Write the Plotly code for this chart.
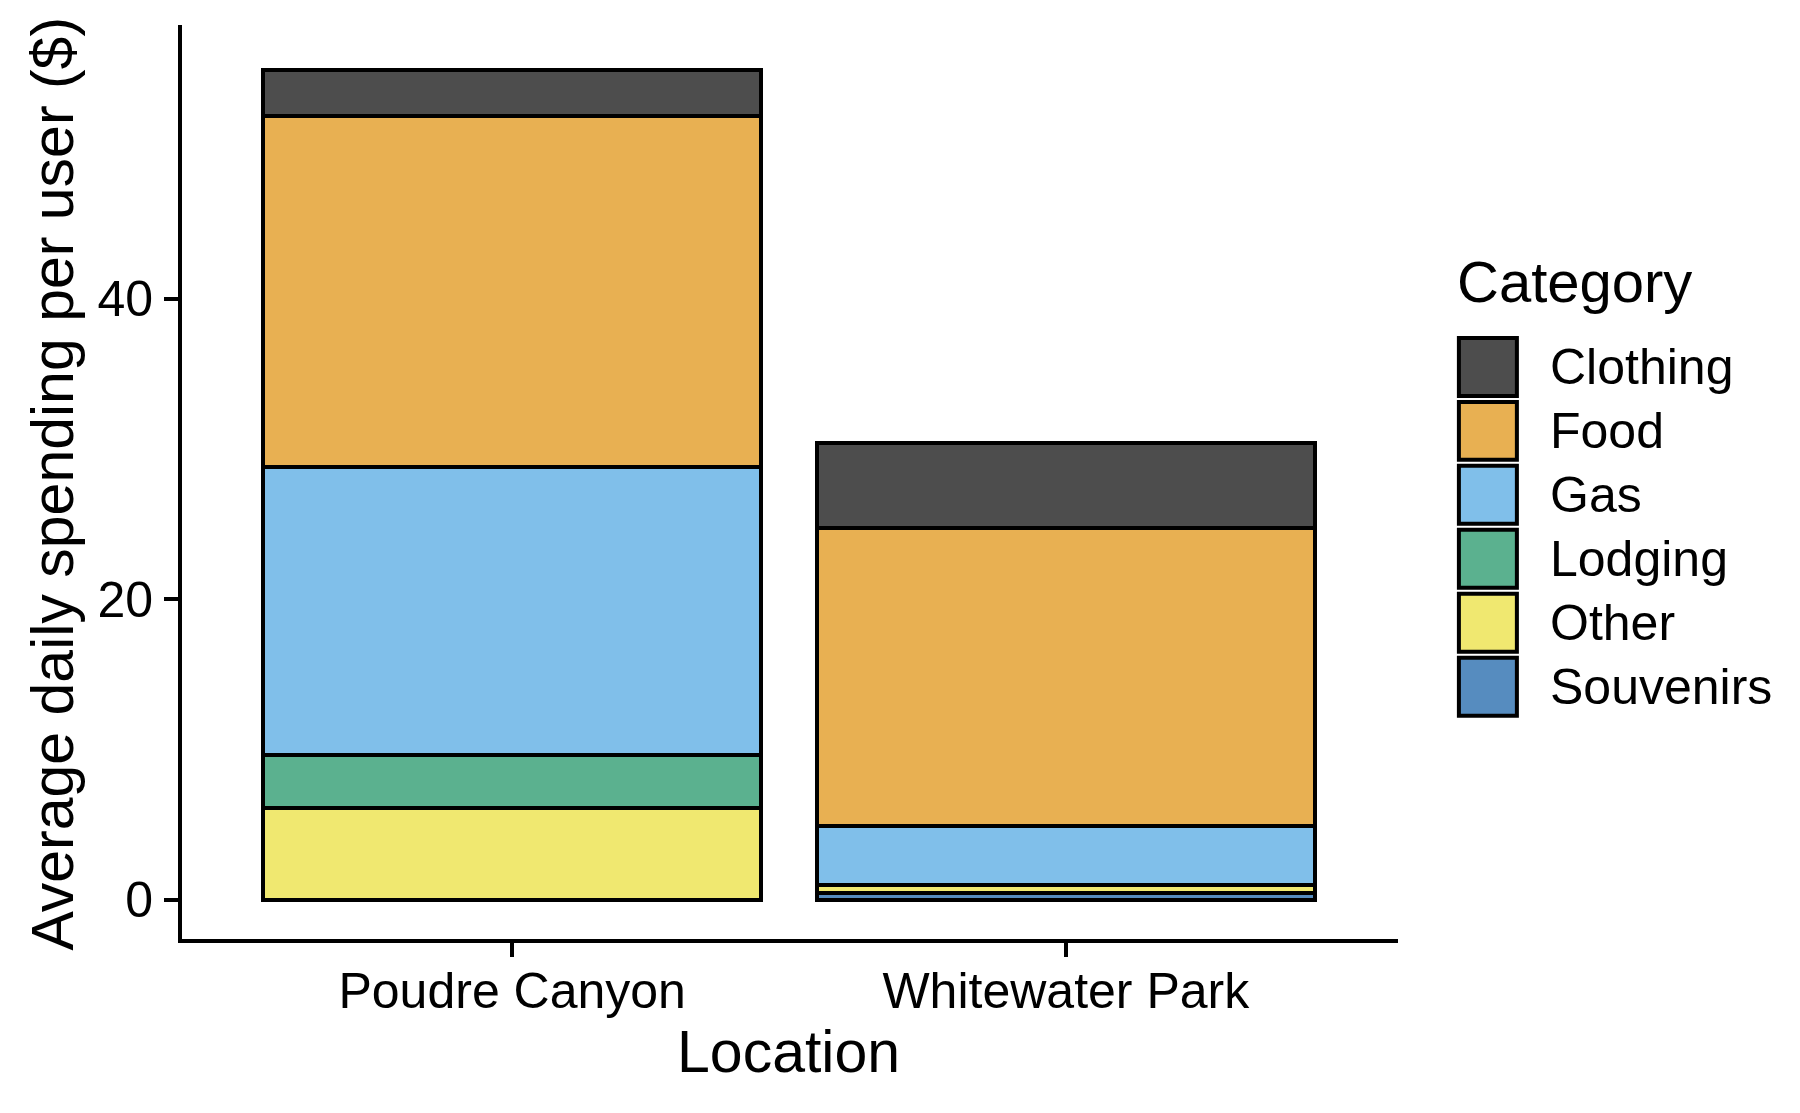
import plotly.graph_objects as go

# ---------------- data ----------------
locations = ["Poudre Canyon", "Whitewater Park"]
categories = ["Clothing", "Food", "Gas", "Lodging", "Other", "Souvenirs"]
clothing = [3.08, 5.65]
food = [23.34, 19.86]
gas = [19.19, 3.90]
lodging = [3.55, 0.0]
other = [6.08, 0.56]
souvenirs = [0.0, 0.44]
values = {
    "Clothing": clothing,
    "Food": food,
    "Gas": gas,
    "Lodging": lodging,
    "Other": other,
    "Souvenirs": souvenirs,
}
colors = {
    "Clothing": "#4D4D4D",
    "Food": "#E8B052",
    "Gas": "#80BFEA",
    "Lodging": "#5BB18F",
    "Other": "#F0E870",
    "Souvenirs": "#568CBF",
}
y_ticks = [0, 20, 40]

FONT = "Liberation Sans, Arial, sans-serif"

# ---------------- geometry (pixels) ----------------
W, H = 1800, 1113
L, R, T, B = 182.3, 1800 - 1398.4, 25, 1113 - 939.3
PW = W - L - R
PH = H - T - B


def px_x(p):
    return (p - L) / PW


def px_y(p):
    return (H - B - p) / PH


fig = go.Figure()

# bottom of stack first (Souvenirs) up to Clothing on top
for cat in reversed(categories):
    fig.add_trace(
        go.Bar(
            x=locations,
            y=values[cat],
            name=cat,
            width=0.9,
            marker=dict(color=colors[cat], line=dict(color="black", width=4)),
            showlegend=False,
        )
    )

# ---------------- custom legend ----------------
shapes = []
annotations = []
box_x0, box_x1 = 1459.3, 1517.3
first_center, pitch, half = 367, 64, 29
for i, cat in enumerate(categories):
    cy = first_center + i * pitch
    shapes.append(
        dict(
            type="rect",
            xref="paper",
            yref="paper",
            x0=px_x(box_x0),
            x1=px_x(box_x1),
            y0=px_y(cy + half),
            y1=px_y(cy - half),
            fillcolor=colors[cat],
            line=dict(color="black", width=4),
            layer="above",
        )
    )
    annotations.append(
        dict(
            xref="paper",
            yref="paper",
            x=px_x(1548),
            y=px_y(cy),
            xanchor="left",
            yanchor="middle",
            text=cat,
            showarrow=False,
            font=dict(family=FONT, size=50, color="black"),
        )
    )

annotations.append(
    dict(
        xref="paper",
        yref="paper",
        x=px_x(1455),
        y=px_y(282),
        xanchor="left",
        yanchor="middle",
        text="Category",
        showarrow=False,
        font=dict(family=FONT, size=58, color="black"),
    )
)

# axis titles
annotations.append(
    dict(
        xref="paper",
        yref="paper",
        x=px_x(789),
        y=px_y(1052),
        xanchor="center",
        yanchor="middle",
        text="Location",
        showarrow=False,
        font=dict(family=FONT, size=59, color="black"),
    )
)
annotations.append(
    dict(
        xref="paper",
        yref="paper",
        x=px_x(53),
        y=px_y(484),
        xanchor="center",
        yanchor="middle",
        textangle=-90,
        text="Average daily spending per user ($)",
        showarrow=False,
        font=dict(family=FONT, size=59, color="black"),
    )
)

fig.update_layout(
    barmode="stack",
    width=W,
    height=H,
    margin=dict(l=L, r=R, t=T, b=B, pad=0),
    paper_bgcolor="white",
    plot_bgcolor="white",
    font=dict(family=FONT, size=50, color="black"),
    showlegend=False,
    shapes=shapes,
    annotations=annotations,
    xaxis=dict(
        range=[-0.5964, 1.6],
        showline=True,
        linecolor="black",
        linewidth=4,
        ticks="outside",
        ticklen=14,
        tickwidth=3.5,
        tickcolor="black",
        showgrid=False,
        zeroline=False,
        tickfont=dict(family=FONT, size=50, color="black"),
        ticklabelstandoff=-9,
    ),
    yaxis=dict(
        range=[-2.62, 58.24],
        tickvals=y_ticks,
        ticktext=[str(v) for v in y_ticks],
        showline=True,
        linecolor="black",
        linewidth=4,
        ticks="outside",
        ticklen=14,
        tickwidth=3.5,
        tickcolor="black",
        showgrid=False,
        zeroline=False,
        tickfont=dict(family=FONT, size=50, color="black"),
        ticklabelstandoff=1,
    ),
)

fig.write_html("out.html")
